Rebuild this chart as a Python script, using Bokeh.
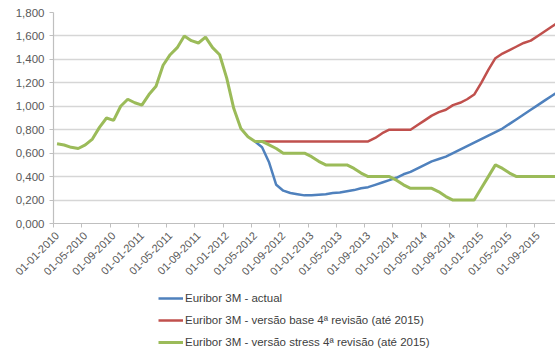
import math
from bokeh.plotting import figure
from bokeh.layouts import column
from bokeh.models import (Range1d, FixedTicker, CustomJSTickFormatter, Legend,
                          LegendItem)
from bokeh.embed import file_html
from bokeh.resources import INLINE

# ---- data -------------------------------------------------------------
tick_labels = ["01-01-2010", "01-05-2010", "01-09-2010", "01-01-2011",
               "01-05-2011", "01-09-2011", "01-01-2012", "01-05-2012",
               "01-09-2012", "01-01-2013", "01-05-2013", "01-09-2013",
               "01-01-2014", "01-05-2014", "01-09-2014", "01-01-2015",
               "01-05-2015", "01-09-2015"]
tick_months = [0, 4, 8, 12, 16, 20, 24, 28, 32, 36, 40, 44, 48, 52, 56, 60, 64, 68]

# monthly points, Jan 2010 .. Dec 2015 (month index 0..71)
stress_values = [0.68, 0.67, 0.65, 0.64, 0.67, 0.72, 0.82, 0.90, 0.88, 1.00,
                 1.06, 1.03, 1.01, 1.10, 1.17, 1.35, 1.44, 1.50, 1.60, 1.56,
                 1.54, 1.59, 1.50, 1.44, 1.24, 0.98, 0.81, 0.74, 0.70, 0.70,
                 0.67, 0.64, 0.60, 0.60, 0.60, 0.60, 0.57, 0.53, 0.50, 0.50,
                 0.50, 0.50, 0.47, 0.43, 0.40, 0.40, 0.40, 0.40, 0.37, 0.33,
                 0.30, 0.30, 0.30, 0.30, 0.27, 0.23, 0.20, 0.20, 0.20, 0.20,
                 0.30, 0.40, 0.50, 0.47, 0.43, 0.40, 0.40, 0.40, 0.40, 0.40,
                 0.40, 0.40]
proj_start = 28  # May 2012
actual_values = [0.70, 0.65, 0.52, 0.33, 0.28, 0.26, 0.25, 0.24, 0.24, 0.245,
                 0.25, 0.26, 0.265, 0.275, 0.285, 0.30, 0.31, 0.33, 0.35, 0.37,
                 0.39, 0.42, 0.44, 0.47, 0.50, 0.53, 0.55, 0.57, 0.60, 0.63,
                 0.66, 0.69, 0.72, 0.75, 0.78, 0.81, 0.85, 0.89, 0.93, 0.97,
                 1.01, 1.05, 1.09, 1.13]
base_values = [0.70, 0.70, 0.70, 0.70, 0.70, 0.70, 0.70, 0.70, 0.70, 0.70,
               0.70, 0.70, 0.70, 0.70, 0.70, 0.70, 0.70, 0.73, 0.77, 0.80,
               0.80, 0.80, 0.80, 0.84, 0.88, 0.92, 0.95, 0.97, 1.01, 1.03,
               1.06, 1.10, 1.20, 1.31, 1.41, 1.45, 1.48, 1.51, 1.54, 1.56,
               1.60, 1.64, 1.68, 1.72]
series_names = ["Euribor 3M - actual",
                "Euribor 3M - versão base 4ª revisão (até 2015)",
                "Euribor 3M - versão stress 4ª revisão (até 2015)"]
series_colors = ["#4F81BD", "#C0504D", "#9BBB59"]
series_widths = [2.5, 2.5, 3]
y_ticks = [0.0, 0.2, 0.4, 0.6, 0.8, 1.0, 1.2, 1.4, 1.6, 1.8]

# ---- main chart -------------------------------------------------------
FONT = "Liberation Sans"
p = figure(width=555, height=283, output_backend="svg", toolbar_location=None,
           x_range=Range1d(-0.5, 70.5), y_range=Range1d(0, 1.8),
           min_border_left=53, min_border_right=0, min_border_top=12,
           min_border_bottom=60)
p.outline_line_color = None
p.background_fill_color = "white"
p.border_fill_color = "white"

p.xgrid.visible = False
p.ygrid.grid_line_color = "#d6d6d6"
p.ygrid.grid_line_width = 1.5

xa = p.xaxis[0]
xa.ticker = FixedTicker(ticks=tick_months,
                        minor_ticks=[m - 0.5 for m in tick_months] + [71.5])
xa.major_label_overrides = {m: l for m, l in zip(tick_months, tick_labels)}
xa.major_label_orientation = math.pi / 4
xa.major_tick_out = 0
xa.major_tick_in = 0
xa.minor_tick_out = 4
xa.minor_tick_in = 0
xa.minor_tick_line_color = "#bfbfbf"
xa.axis_line_color = "#bfbfbf"
xa.axis_line_width = 1.2
xa.major_label_standoff = 6
xa.major_label_text_font = FONT
xa.major_label_text_font_size = "11px"
xa.major_label_text_color = "#595959"

ya = p.yaxis[0]
ya.ticker = FixedTicker(ticks=y_ticks, minor_ticks=[])
ya.formatter = CustomJSTickFormatter(code="return tick.toFixed(3).replace('.', ',');")
ya.major_tick_out = 4
ya.major_tick_in = 0
ya.major_tick_line_color = "#bfbfbf"
ya.axis_line_color = "#bfbfbf"
ya.axis_line_width = 1.2
ya.major_label_standoff = 5
ya.major_label_text_font = FONT
ya.major_label_text_font_size = "11.5px"
ya.major_label_text_color = "#595959"

months_all = list(range(len(stress_values)))
months_proj = list(range(proj_start, proj_start + len(actual_values)))

p.line(months_proj, actual_values, line_color=series_colors[0], line_width=series_widths[0])
p.line(months_proj, base_values, line_color=series_colors[1], line_width=series_widths[1])
p.line(months_all, stress_values, line_color=series_colors[2], line_width=series_widths[2])

# ---- legend strip below the chart ------------------------------------
lg = figure(width=555, height=70, output_backend="svg", toolbar_location=None,
            x_range=Range1d(0, 1), y_range=Range1d(0, 1),
            x_axis_location=None, y_axis_location=None,
            min_border_left=0, min_border_right=0, min_border_top=0,
            min_border_bottom=0)
lg.outline_line_color = None
lg.xgrid.visible = False
lg.ygrid.visible = False
lg.border_fill_color = "white"
items = []
for name, col, w in zip(series_names, series_colors, series_widths):
    # off-screen sample line, only used for the legend swatch
    r = lg.line([-2, -1], [-2, -2], line_color=col, line_width=w)
    items.append(LegendItem(label=name, renderers=[r]))
legend = Legend(items=items, location=(105, 0), orientation="vertical",
                padding=0, margin=0, spacing=0,
                glyph_width=25, glyph_height=22, label_height=22,
                label_standoff=2,
                label_text_font=FONT, label_text_font_size="11.5px",
                label_text_color="#404040",
                border_line_color=None, background_fill_alpha=0)
lg.add_layout(legend, "center")

layout = column(p, lg, spacing=0)
open("out.html", "w").write(file_html(layout, INLINE))
